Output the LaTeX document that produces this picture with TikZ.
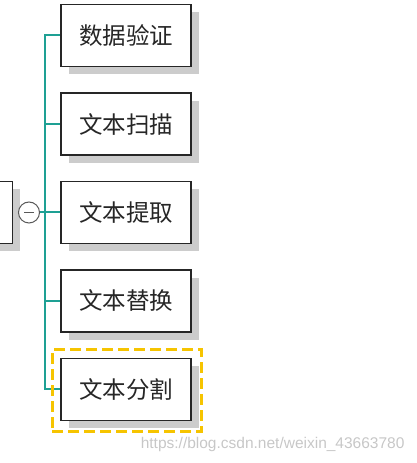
\documentclass[tikz,border=0pt]{standalone}
\usepackage{fontspec}
\newfontfamily\cjk{Noto Sans CJK SC}
\setsansfont{Liberation Sans}
\usetikzlibrary{positioning,fit,shadows}
\definecolor{branch}{RGB}{30,160,148}
\definecolor{hilite}{RGB}{246,196,0}

\begin{document}
\begin{tikzpicture}[
  x=1pt, y=1pt,
  box/.style={draw=black!85, line width=1.5pt, fill=white, minimum width=130pt,
    minimum height=62pt, inner sep=0pt, text=black!85,
    font=\cjk\fontsize{23.5}{26}\selectfont,
    drop shadow={shadow xshift=8pt, shadow yshift=-8pt, fill=black!20, opacity=1}},
  link/.style={branch, line width=2pt},
  pick/.style={draw=hilite, line width=3.4pt, dash pattern=on 11pt off 5pt, inner sep=8pt}
]
  \useasboundingbox (0,0) rectangle (417,463);
  % child topics
  \node[box] (b1) at (126,427.5) {数据验证};
  \node[box, below=25pt of b1] (b2) {文本扫描};
  \node[box, below=25pt of b2] (b3) {文本提取};
  \node[box, below=25pt of b3] (b4) {文本替换};
  \node[box, below=25pt of b4] (b5) {文本分割};
  % parent topic, mostly off the page
  \node[box, anchor=east] (root) at (13,0 |- b3) {};
  \node[circle, draw=black!65, line width=1pt, fill=white, minimum size=21pt, inner sep=0pt] (fold) at (29,0 |- b3) {};
  \draw[black!65, line width=1pt] ([xshift=-5pt]fold.center) -- ([xshift=5pt]fold.center);
  \coordinate (trunk) at (45,0 |- b3);
  \draw[link] (fold) -- (trunk);
  \foreach \b in {b1,b2,b3,b4,b5}
    \draw[link] (trunk) |- (\b.west);
  % selection frame
  \node[pick, fit={(b5) ([shift={(2pt,-2pt)}]b5.south east)}] (sel) {};
  \node[font=\sffamily\fontsize{15.5}{17}\selectfont, text=black!22, anchor=east] (mark) at (408,19) {https://blog.csdn.net/weixin\_43663780};
\end{tikzpicture}
\end{document}
